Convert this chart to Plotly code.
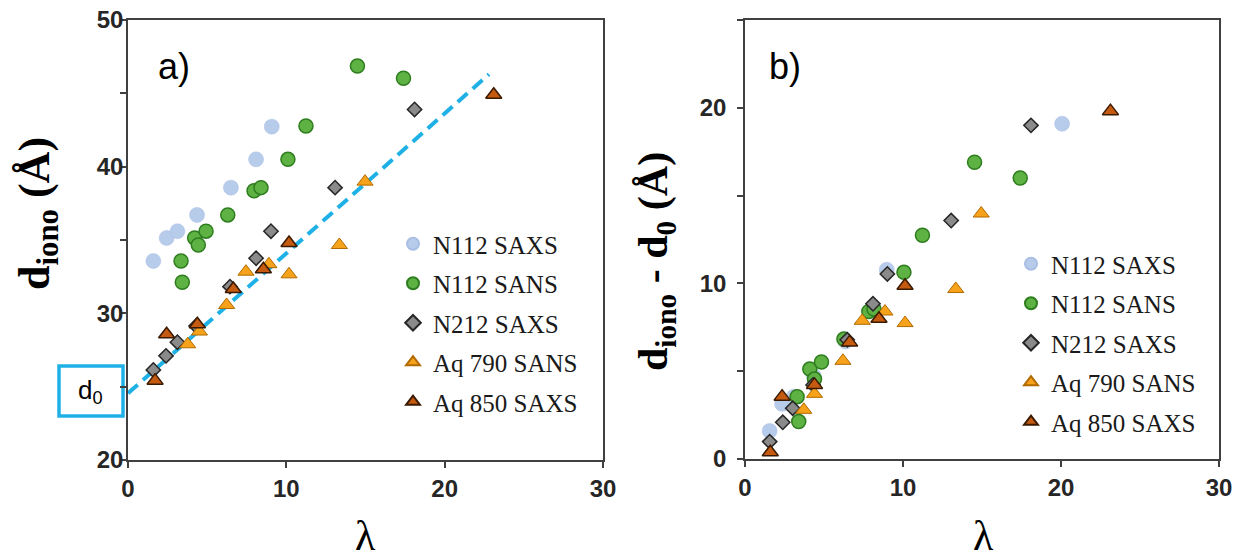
import plotly.graph_objects as go

W, H = 1251, 560
OFF = 8  # page body margin offset

# ---------------- data: panel a) d_iono vs lambda ----------------
a_blue_x = [1.6, 2.44, 3.12, 4.36, 6.5, 8.09, 9.08]
a_blue_y = [33.57, 35.14, 35.6, 36.71, 38.57, 40.5, 42.73]
a_green_x = [3.35, 3.43, 4.21, 4.44, 4.93, 6.3, 7.96, 8.4, 10.1, 11.24, 14.49, 17.4]
a_green_y = [33.57, 32.12, 35.14, 34.66, 35.6, 36.71, 38.36, 38.57, 40.5, 42.77, 46.86, 46.03]
a_grey_x = [1.6, 2.4, 3.12, 4.3, 6.44, 8.09, 9.03, 13.08, 18.1]
a_grey_y = [26.14, 27.1, 28.03, 29.14, 31.82, 33.76, 35.6, 38.57, 43.9]
a_orange_x = [3.77, 4.51, 6.23, 7.45, 8.9, 10.17, 13.35, 14.97]
a_orange_y = [27.89, 28.76, 30.57, 32.84, 33.35, 32.66, 34.66, 38.98]
a_brown_x = [1.71, 2.44, 4.38, 6.65, 8.55, 10.17, 23.1]
a_brown_y = [25.41, 28.57, 29.26, 31.66, 33.0, 34.8, 44.9]
fit_x = [0.0, 22.8]
fit_y = [24.55, 46.3]

# ---------------- data: panel b) d_iono - d0 vs lambda ----------------
b_blue_x = [1.56, 2.35, 3.1, 4.36, 6.36, 8.09, 8.97, 20.07]
b_blue_y = [1.6, 3.14, 3.55, 4.71, 6.69, 8.5, 10.78, 19.09]
b_green_x = [3.3, 3.4, 4.1, 4.4, 4.84, 6.26, 7.84, 8.16, 10.06, 11.23, 14.53, 17.42]
b_green_y = [3.55, 2.13, 5.12, 4.55, 5.52, 6.83, 8.4, 8.54, 10.63, 12.74, 16.9, 16.0]
b_grey_x = [1.56, 2.39, 3.02, 4.31, 6.47, 8.1, 9.01, 13.05, 18.1]
b_grey_y = [0.99, 2.09, 2.89, 4.22, 6.79, 8.84, 10.54, 13.58, 19.0]
b_orange_x = [3.72, 4.4, 6.2, 7.42, 8.86, 10.13, 13.34, 14.95]
b_orange_y = [2.8, 3.71, 5.59, 7.87, 8.4, 7.74, 9.68, 13.98]
b_brown_x = [1.6, 2.35, 4.4, 6.62, 8.48, 10.13, 23.13]
b_brown_y = [0.38, 3.55, 4.22, 6.64, 7.99, 9.87, 19.81]

series_names = ["N112 SAXS", "N112 SANS", "N212 SAXS", "Aq 790 SANS", "Aq 850 SAXS"]
x_ticks = [0, 10, 20, 30]
ya_ticks = [20, 30, 40, 50]
yb_ticks = [0, 10, 20]

styles = [
    dict(symbol="circle", size=15, color="#B7CBEA", line=dict(color="#A8BEE4", width=0.5)),
    dict(symbol="circle", size=14, color="#5EB244", line=dict(color="#2E7D1E", width=1.5)),
    dict(symbol="diamond", size=11, color="#8A8A8A", line=dict(color="#262626", width=1.5)),
    dict(symbol="triangle-up", size=14, color="#F7A21B", line=dict(color="#B06A00", width=1)),
    dict(symbol="triangle-up", size=14, color="#C55A11", line=dict(color="#3A1A00", width=1.5)),
]

a_sets = [(a_blue_x, a_blue_y), (a_green_x, a_green_y), (a_grey_x, a_grey_y),
          (a_orange_x, a_orange_y), (a_brown_x, a_brown_y)]
b_sets = [(b_blue_x, b_blue_y), (b_green_x, b_green_y), (b_grey_x, b_grey_y),
          (b_orange_x, b_orange_y), (b_brown_x, b_brown_y)]

fig = go.Figure()

fig.add_trace(go.Scatter(x=fit_x, y=fit_y, mode="lines", xaxis="x", yaxis="y",
                         line=dict(color="#1FB1E6", width=4, dash="13px,7px"),
                         showlegend=False, cliponaxis=False, hoverinfo="skip"))

for i, ((xs, ys), st) in enumerate(zip(a_sets, styles)):
    fig.add_trace(go.Scatter(x=xs, y=ys, mode="markers", name=series_names[i],
                             xaxis="x", yaxis="y", marker=st, legend="legend",
                             legendgroup="a%d" % i, cliponaxis=False))
for i, ((xs, ys), st) in enumerate(zip(b_sets, styles)):
    fig.add_trace(go.Scatter(x=xs, y=ys, mode="markers", name=series_names[i],
                             xaxis="x2", yaxis="y2", marker=st, legend="legend2",
                             legendgroup="b%d" % i, cliponaxis=False))

def px_x(p):
    return (p - OFF) / W

def px_y(p):
    return 1 - (p - OFF) / H

axis_common = dict(showline=True, mirror=True, linecolor="#404040", linewidth=1.5,
                   ticks="outside", ticklen=6, tickwidth=1.5, tickcolor="#404040",
                   showgrid=False, zeroline=False, automargin=False, ticklabeloverflow="allow",
                   tickfont=dict(family="Liberation Sans", size=24, color="#262626", weight="bold"))
minor_y = dict(dtick=5, tick0=0, ticks="outside", ticklen=6, tickwidth=1.5, tickcolor="#404040")

leg_font = dict(family="Liberation Serif", size=25, color="#1a1a1a")

fig.update_layout(
    template="none",
    width=W, height=H,
    margin=dict(l=0, r=0, t=0, b=0, autoexpand=False),
    paper_bgcolor="white", plot_bgcolor="white",
    xaxis=dict(domain=[px_x(128), px_x(603)], range=[0, 30], tickvals=x_ticks, anchor="y", **axis_common),
    yaxis=dict(domain=[px_y(460), px_y(20)], range=[20, 50], tickvals=ya_ticks, anchor="x",
               minor=minor_y, ticklabelstandoff=-8, **axis_common),
    xaxis2=dict(domain=[px_x(745), px_x(1219)], range=[0, 30], tickvals=x_ticks, anchor="y2", **axis_common),
    yaxis2=dict(domain=[px_y(459), px_y(20)], range=[0, 25], tickvals=yb_ticks, anchor="x2",
                minor=minor_y, ticklabelstandoff=6, **axis_common),
    legend=dict(x=px_x(393), y=px_y(221), xanchor="left", yanchor="top", bgcolor="rgba(0,0,0,0)",
                font=leg_font, itemsizing="constant", traceorder="grouped", tracegroupgap=4),
    legend2=dict(x=px_x(1011), y=px_y(241), xanchor="left", yanchor="top", bgcolor="rgba(0,0,0,0)",
                 font=leg_font, itemsizing="constant", traceorder="grouped", tracegroupgap=4),
    showlegend=True,
)

def note(text, x, y, font, angle=0):
    return dict(text=text, x=px_x(x), y=px_y(y), xref="paper", yref="paper", showarrow=False,
                xanchor="center", yanchor="middle", textangle=angle, font=font)

ann = [
    note("a)", 174, 67, dict(family="Liberation Sans", size=36, color="black")),
    note("b)", 785, 67, dict(family="Liberation Sans", size=36, color="black")),
    note("λ", 365, 536, dict(family="Liberation Serif", size=42, color="black")),
    note("λ", 983, 536, dict(family="Liberation Serif", size=42, color="black")),
    note("d<sub>iono</sub> (Å)", 37, 214,
         dict(family="Liberation Serif", size=44, color="black", weight="bold"), -90),
    note("d<sub>iono</sub> - d<sub>0</sub> (Å)", 656, 262,
         dict(family="Liberation Serif", size=42, color="black", weight="bold"), -90),
    note("d<sub>0</sub>", 90, 391, dict(family="Liberation Sans", size=26, color="black")),
]
fig.update_layout(annotations=ann)

fig.add_shape(type="rect", xref="paper", yref="paper",
              x0=px_x(59), x1=px_x(123), y0=px_y(416), y1=px_y(366),
              line=dict(color="#1FB1E6", width=3.5), fillcolor="white", layer="below")

fig.write_html("out.html")
